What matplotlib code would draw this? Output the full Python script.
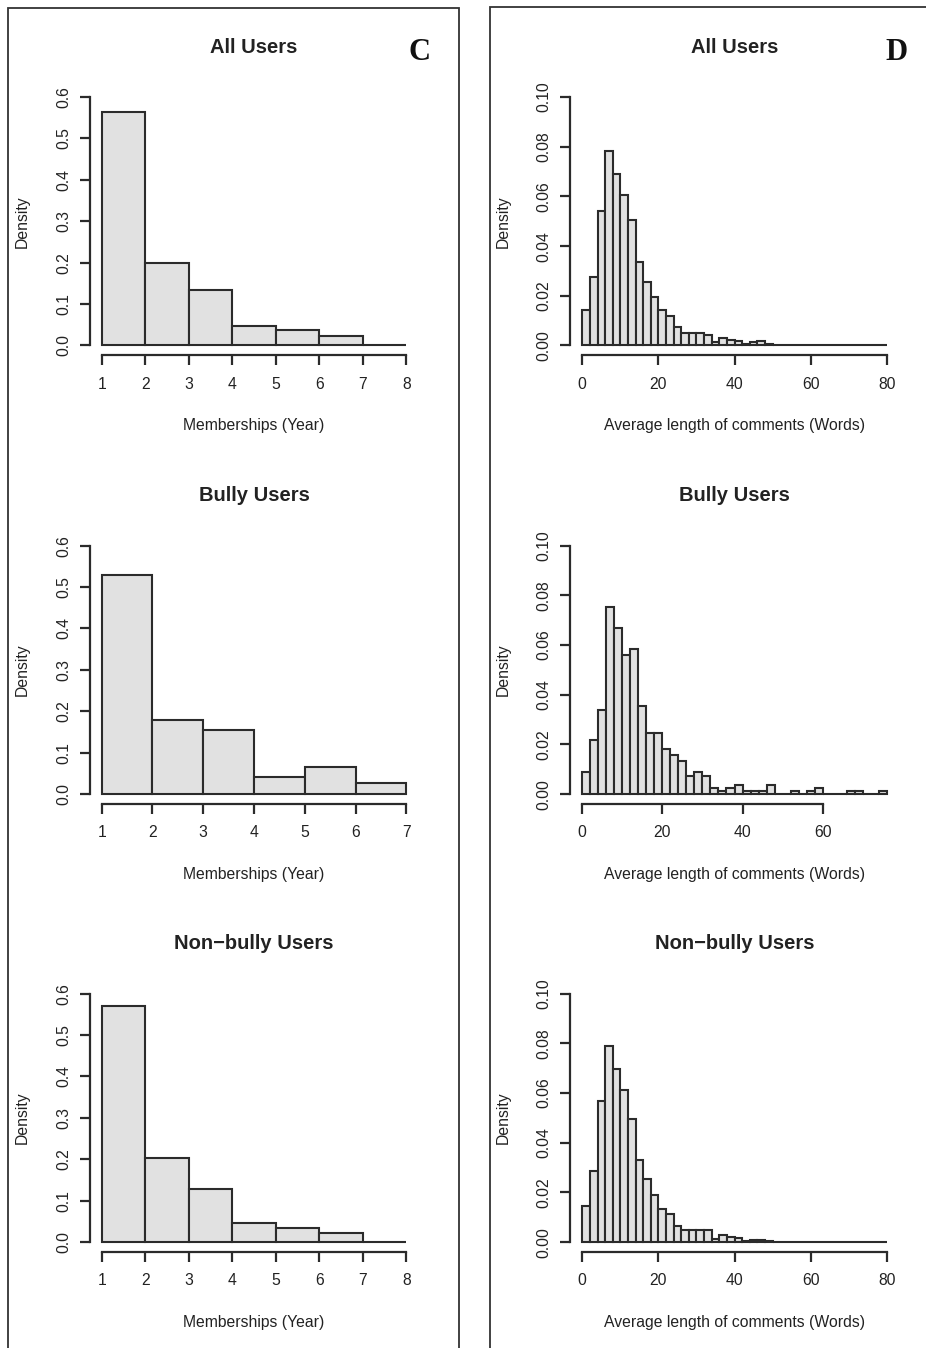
import matplotlib
matplotlib.use('Agg')
import matplotlib.pyplot as plt
from matplotlib.patches import Rectangle
import numpy as np

plt.rcParams['font.family'] = ['Liberation Sans', 'DejaVu Sans']

# membership histograms (density per 1-year bin)
memb_edges_all = [1, 2, 3, 4, 5, 6, 7, 8]
memb_all = [0.564, 0.200, 0.133, 0.046, 0.038, 0.023, 0.001]
memb_edges_bully = [1, 2, 3, 4, 5, 6, 7]
memb_bully = [0.528, 0.180, 0.154, 0.042, 0.065, 0.026]
memb_edges_non = [1, 2, 3, 4, 5, 6, 7, 8]
memb_non = [0.569, 0.202, 0.129, 0.047, 0.033, 0.021, 0.001]

# comment length histograms (density per 2-word bin)
words_all = [0.0143, 0.0277, 0.0542, 0.0784, 0.0691, 0.0606, 0.0505, 0.0335, 0.0254, 0.0197,
             0.0141, 0.0119, 0.0074, 0.0052, 0.0052, 0.0052, 0.0041, 0.0013, 0.0029, 0.0024,
             0.0019, 0.0007, 0.0012, 0.0017, 0.0005, 0.0003, 0.0002, 0.0003, 0.0001, 0.0001,
             0.0002, 0.0001, 0.0001, 0.0002, 0.0001, 0.0000, 0.0002, 0.0001, 0.0001, 0.0002]
words_bully = [0.0088, 0.0218, 0.0340, 0.0751, 0.0667, 0.0558, 0.0584, 0.0355, 0.0244, 0.0244,
               0.0182, 0.0157, 0.0135, 0.0071, 0.0087, 0.0071, 0.0025, 0.0011, 0.0024, 0.0036,
               0.0011, 0.0011, 0.0011, 0.0036, 0.0, 0.0, 0.0013, 0.0, 0.0013, 0.0025,
               0.0, 0.0, 0.0, 0.0013, 0.0013, 0.0, 0.0, 0.0013]
words_non = [0.0146, 0.0285, 0.0568, 0.0789, 0.0697, 0.0613, 0.0494, 0.0332, 0.0255, 0.0188,
             0.0132, 0.0114, 0.0063, 0.0050, 0.0050, 0.0050, 0.0047, 0.0013, 0.0027, 0.0020,
             0.0015, 0.0005, 0.0008, 0.0008, 0.0003, 0.0002, 0.0001, 0.0002, 0.0001, 0.0001,
             0.0, 0.0001, 0.0, 0.0, 0.0, 0.0, 0.0, 0.0001, 0.0001, 0.0001]

titles = ['All Users', 'Bully Users', 'Non\u2212bully Users']
memb_xticks = [[1, 2, 3, 4, 5, 6, 7, 8], [1, 2, 3, 4, 5, 6, 7], [1, 2, 3, 4, 5, 6, 7, 8]]
words_xticks = [[0, 20, 40, 60, 80], [0, 20, 40, 60], [0, 20, 40, 60, 80]]
memb_yticks = [0.0, 0.1, 0.2, 0.3, 0.4, 0.5, 0.6]
words_yticks = [0.00, 0.02, 0.04, 0.06, 0.08, 0.10]

W, H = 926, 1348
EDGE = '#2b2b2b'
FILL = '#e1e1e1'
TXT = '#222222'


def draw_hist(ax, edges, dens, xticks, yticks, yfmt, title, xlabel):
    edges = np.asarray(edges, dtype=float)
    ax.bar(edges[:-1], dens, width=np.diff(edges), align='edge',
           color=FILL, edgecolor=EDGE, linewidth=1.5)
    xr = edges[-1] - edges[0]
    ax.set_xlim(edges[0] - 0.04 * xr, edges[-1] + 0.04 * xr)
    ymax = yticks[-1]
    ax.set_ylim(-0.04 * ymax, 1.04 * ymax)
    for s in ['top', 'right']:
        ax.spines[s].set_visible(False)
    for s in ['left', 'bottom']:
        ax.spines[s].set_linewidth(1.6)
        ax.spines[s].set_color(EDGE)
    ax.spines['left'].set_bounds(yticks[0], yticks[-1])
    ax.spines['bottom'].set_bounds(xticks[0], xticks[-1])
    ax.set_xticks(xticks)
    ax.set_xticklabels([str(t) for t in xticks])
    ax.set_yticks(yticks)
    ax.set_yticklabels([yfmt.format(t) for t in yticks], rotation=90, va='center')
    ax.tick_params(length=7.2, width=1.6, color=EDGE, labelsize=11.3, labelcolor=TXT)
    ax.tick_params(axis='x', pad=8)
    ax.tick_params(axis='y', pad=6)
    ax.set_xlabel(xlabel, fontsize=11.3, color=TXT, labelpad=19)
    ax.set_ylabel('Density', fontsize=11.3, color=TXT, labelpad=19)
    ax.text(0.5, 1 + 40 / 268.3, title, transform=ax.transAxes, ha='center', va='center',
            fontsize=14.5, fontweight='bold', color=TXT)
    ax.patch.set_visible(False)


fig = plt.figure(figsize=(W / 100, H / 100), dpi=100)

row_bottoms = [355.4, 804.0, 1252.0]
ax_h = 268.3
memb_sets = [(memb_edges_all, memb_all), (memb_edges_bully, memb_bully), (memb_edges_non, memb_non)]
word_sets = [np.arange(0, 82, 2), np.arange(0, 78, 2), np.arange(0, 82, 2)]
word_vals = [words_all, words_bully, words_non]

for i in range(3):
    b = 1 - row_bottoms[i] / H
    axl = fig.add_axes([89.5 / W, b, 329.0 / W, ax_h / H])
    draw_hist(axl, memb_sets[i][0], memb_sets[i][1], memb_xticks[i], memb_yticks,
              '{:.1f}', titles[i], 'Memberships (Year)')
    axr = fig.add_axes([570.1 / W, b, 328.8 / W, ax_h / H])
    draw_hist(axr, word_sets[i], word_vals[i], words_xticks[i], words_yticks,
              '{:.2f}', titles[i], 'Average length of comments (Words)')

# panel frames
fig.add_artist(Rectangle((8 / W, -0.01), (459 - 8) / W, 1.01 - 8 / H,
                         transform=fig.transFigure, fill=False, edgecolor='#333333', linewidth=1.3))
fig.add_artist(Rectangle((490 / W, -0.01), 0.5, 1.01 - 7 / H,
                         transform=fig.transFigure, fill=False, edgecolor='#333333', linewidth=1.3))

fig.text(419 / W, 1 - 52 / H, 'C', family='Liberation Serif', fontweight='bold',
         fontsize=22, ha='center', va='center', color='#111111')
fig.text(897 / W, 1 - 53 / H, 'D', family='Liberation Serif', fontweight='bold',
         fontsize=22, ha='center', va='center', color='#111111')

plt.savefig('out.png', dpi=100)
